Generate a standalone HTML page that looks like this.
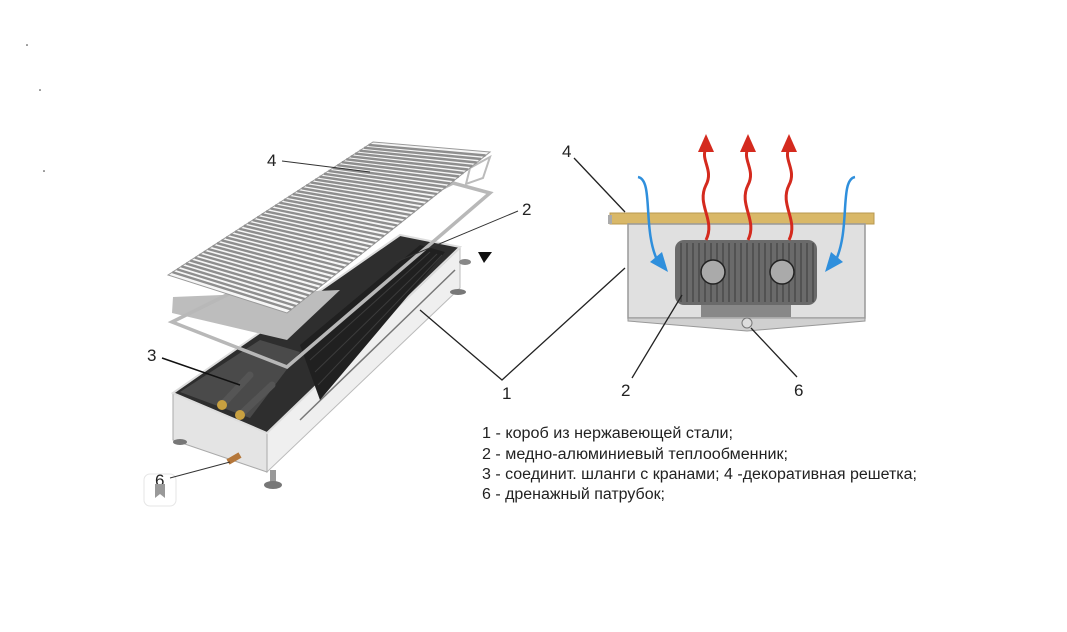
<!DOCTYPE html>
<html><head><meta charset="utf-8"><style>
html,body{margin:0;padding:0;background:#fff;}
svg{display:block;}
text{font-family:"Liberation Sans",sans-serif;fill:#222;}
</style></head><body>
<svg id="s" width="1067" height="632" viewBox="0 0 1067 632" xmlns="http://www.w3.org/2000/svg">
<rect width="1067" height="632" fill="#fff"/>
<!-- LEFT: convector body -->
<polygon points="267,433 460,248 460,288 267,472" fill="#efefef" stroke="#bbb"/>
<line x1="300" y1="420" x2="455" y2="270" stroke="#777" stroke-width="1.5"/>
<polygon points="173,393 267,433 267,472 173,440" fill="#e4e4e4" stroke="#aaa"/>
<!-- interior -->
<polygon points="173,393 400,235 460,247 267,433" fill="#2e2e2e" stroke="#ddd" stroke-width="2"/>
<polygon points="180,392 260,340 300,352 250,418" fill="#4a4a4a"/>
<!-- heat exchanger -->
<polygon points="300,345 420,245 445,252 320,400" fill="#202020"/>
<g stroke="#3c3c3c" stroke-width="1"><line x1="305" y1="350" x2="425" y2="250"/><line x1="310" y1="360" x2="430" y2="252"/><line x1="315" y1="372" x2="437" y2="254"/><line x1="318" y1="385" x2="442" y2="255"/></g>
<!-- legs -->
<ellipse cx="180" cy="442" rx="7" ry="3" fill="#777"/>
<rect x="270" y="470" width="6" height="15" fill="#999"/>
<ellipse cx="273" cy="485" rx="9" ry="4" fill="#777"/>
<ellipse cx="458" cy="292" rx="8" ry="3" fill="#777"/>
<ellipse cx="465" cy="262" rx="6" ry="3" fill="#888"/>
<!-- pipes / fittings -->
<g stroke="#555" stroke-width="7" stroke-linecap="round">
<line x1="222" y1="405" x2="250" y2="375"/>
<line x1="240" y1="415" x2="272" y2="385"/>
</g>
<circle cx="222" cy="405" r="5" fill="#c8a040"/>
<circle cx="240" cy="415" r="5" fill="#c8a040"/>
<line x1="228" y1="462" x2="240" y2="455" stroke="#b5773a" stroke-width="6"/>
<!-- frame and plate -->
<polygon points="172,313 173,297 340,290 287,340" fill="#bdbdbd"/>
<polygon points="172,322 453,183 490,193 287,367" fill="none" stroke="#b8b8b8" stroke-width="3.5"/>
<polygon points="470,168 490,157 483,178 466,184" fill="none" stroke="#bbb" stroke-width="2"/>
<!-- grille -->
<polygon points="168,275 373,142 490,152 287,313" fill="#f6f6f6" stroke="#999"/>
<g id="slats" stroke="#8e8e8e" stroke-width="2.4"></g>
<!-- labels left -->
<text x="267" y="166" font-size="17">4</text>
<line x1="282" y1="161" x2="370" y2="172" stroke="#333"/>
<text x="522" y="215" font-size="17">2</text>
<line x1="518" y1="211" x2="396" y2="262" stroke="#333"/>
<polygon points="478,252 492,252 484,263" fill="#111"/>
<text x="147" y="361" font-size="17">3</text>
<line x1="162" y1="358" x2="240" y2="385" stroke="#111" stroke-width="1.5"/>
<rect x="144" y="474" width="32" height="32" rx="6" fill="#fff" stroke="#e6e6e6"/>
<text x="155" y="486" font-size="17" fill="#999">6</text>
<path d="M155,484 h10 v14 l-5,-4 l-5,4z" fill="#999"/>
<line x1="170" y1="478" x2="230" y2="462" stroke="#333"/>
<!-- label 1 -->
<text x="502" y="399" font-size="17">1</text>
<polyline points="420,310 502,380 625,268" fill="none" stroke="#222" stroke-width="1.3"/>
<!-- RIGHT: cross-section -->
<rect x="610" y="213" width="264" height="11" fill="#d9b868" stroke="#b89850"/>
<rect x="608" y="215" width="4" height="9" fill="#aaa"/>
<rect x="628" y="224" width="237" height="94" fill="#e0e0e0" stroke="#999" stroke-width="1.5"/>
<polygon points="628,318 865,318 865,321 747,331 628,321" fill="#d0d0d0" stroke="#999"/>
<circle cx="747" cy="323" r="5" fill="#ddd" stroke="#777"/>
<rect x="701" y="302" width="90" height="15" fill="#888"/>
<rect x="675" y="240" width="142" height="65" rx="9" fill="#6a6a6a"/>
<g stroke="#4a4a4a" stroke-width="1.5">
<line x1="681" y1="243" x2="681" y2="302"/><line x1="687" y1="243" x2="687" y2="302"/><line x1="693" y1="243" x2="693" y2="302"/><line x1="699" y1="243" x2="699" y2="302"/><line x1="705" y1="243" x2="705" y2="302"/><line x1="711" y1="243" x2="711" y2="302"/><line x1="717" y1="243" x2="717" y2="302"/><line x1="723" y1="243" x2="723" y2="302"/><line x1="729" y1="243" x2="729" y2="302"/><line x1="735" y1="243" x2="735" y2="302"/><line x1="741" y1="243" x2="741" y2="302"/><line x1="747" y1="243" x2="747" y2="302"/><line x1="753" y1="243" x2="753" y2="302"/><line x1="759" y1="243" x2="759" y2="302"/><line x1="765" y1="243" x2="765" y2="302"/><line x1="771" y1="243" x2="771" y2="302"/><line x1="777" y1="243" x2="777" y2="302"/><line x1="783" y1="243" x2="783" y2="302"/><line x1="789" y1="243" x2="789" y2="302"/><line x1="795" y1="243" x2="795" y2="302"/><line x1="801" y1="243" x2="801" y2="302"/><line x1="807" y1="243" x2="807" y2="302"/><line x1="813" y1="243" x2="813" y2="302"/>
</g>
<circle cx="713" cy="272" r="12" fill="#aaa" stroke="#222" stroke-width="1.5"/>
<circle cx="782" cy="272" r="12" fill="#aaa" stroke="#222" stroke-width="1.5"/>
<g fill="none" stroke="#d42a1e" stroke-width="3">
<path d="M706,240 C716,220 696,205 706,185 C714,170 700,160 706,148"/>
<path d="M748,240 C758,220 738,205 748,185 C756,170 742,160 748,148"/>
<path d="M789,240 C799,220 779,205 789,185 C797,170 783,160 789,148"/>
</g>
<g fill="#d42a1e">
<polygon points="698,152 706,134 714,152"/>
<polygon points="740,152 748,134 756,152"/>
<polygon points="781,152 789,134 797,152"/>
</g>
<g fill="none" stroke="#2f8fdc" stroke-width="2.5">
<path d="M638,177 C654,180 642,230 658,262"/>
<path d="M855,177 C839,180 851,230 835,262"/>
</g>
<polygon points="650,262 668,272 662,252" fill="#2f8fdc"/>
<polygon points="843,262 825,272 831,252" fill="#2f8fdc"/>
<text x="562" y="157" font-size="17">4</text>
<line x1="574" y1="158" x2="625" y2="212" stroke="#222" stroke-width="1.3"/>
<text x="621" y="396" font-size="17">2</text>
<line x1="632" y1="378" x2="682" y2="295" stroke="#222" stroke-width="1.3"/>
<text x="794" y="396" font-size="17">6</text>
<line x1="797" y1="377" x2="751" y2="328" stroke="#222" stroke-width="1.3"/>
<g font-size="15.5">
<text x="482" y="438" textLength="251" lengthAdjust="spacingAndGlyphs">1 - короб из нержавеющей стали;</text>
<text x="482" y="459" textLength="306" lengthAdjust="spacingAndGlyphs">2 - медно-алюминиевый теплообменник;</text>
<text x="482" y="479" textLength="435" lengthAdjust="spacingAndGlyphs">3 - соединит. шланги с кранами; 4 -декоративная решетка;</text>
<text x="482" y="499" textLength="183" lengthAdjust="spacingAndGlyphs">6 - дренажный патрубок;</text>
</g>
<circle cx="27" cy="45" r="0.8" fill="#333"/><circle cx="40" cy="90" r="0.8" fill="#333"/><circle cx="44" cy="171" r="0.8" fill="#333"/>
</svg>
<script>
var g=document.getElementById('slats'),A=[168,275],B=[373,142],C=[490,152],D=[287,313],n=46,ns='http://www.w3.org/2000/svg';
for(var i=1;i<n;i++){var t=i/n,l=document.createElementNS(ns,'line');
l.setAttribute('x1',A[0]+(B[0]-A[0])*t);l.setAttribute('y1',A[1]+(B[1]-A[1])*t);
l.setAttribute('x2',D[0]+(C[0]-D[0])*t);l.setAttribute('y2',D[1]+(C[1]-D[1])*t);g.appendChild(l);}
</script>
</body></html>
